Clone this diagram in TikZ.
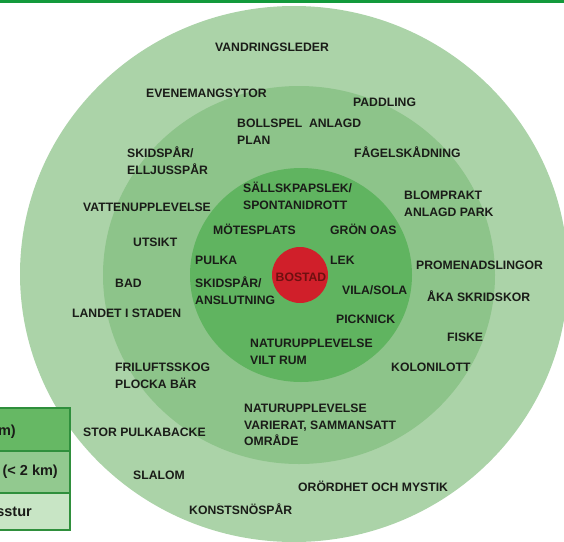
\documentclass[tikz,border=0pt]{standalone}
\usepackage{fontspec}
\setmainfont{Liberation Sans}
\definecolor{ringA}{HTML}{ABD3A8}
\definecolor{ringB}{HTML}{8DC48A}
\definecolor{ringC}{HTML}{60B460}
\definecolor{homered}{HTML}{D01F2A}
\definecolor{hometext}{HTML}{6E1010}
\definecolor{txt}{HTML}{1A1C18}
\definecolor{legA}{HTML}{66B864}
\definecolor{legB}{HTML}{92C98F}
\definecolor{legC}{HTML}{C8E5C5}
\definecolor{legline}{HTML}{2F8F3C}
\definecolor{topline}{HTML}{139A3C}
\tikzset{
  lbl/.style={anchor=base west, inner sep=0pt, align=left, text=txt,
    font=\fontsize{12.2}{16.8}\selectfont\bfseries},
  legtext/.style={anchor=base east, inner sep=0pt, text=txt,
    font=\fontsize{14.5}{17}\selectfont\bfseries},
}
\begin{document}
\begin{tikzpicture}[x=1pt,y=-1pt]
\useasboundingbox (0,0) rectangle (564,541);
\clip (0,0) rectangle (564,541);
% top rule
\fill[topline] (0,0) rectangle (564,2.5);
% rings
\fill[ringA] (294,274) ellipse [x radius=274, y radius=268];
\fill[ringB] (299,275) ellipse [x radius=196, y radius=189];
\fill[ringC] (301,275) ellipse [x radius=111, y radius=107];
\fill[homered] (300,275) circle [radius=28];
\node[anchor=center, inner sep=0pt, text=hometext,
  font=\fontsize{12.2}{14}\selectfont\bfseries] (bostad) at (301,277) {BOSTAD};
% labels: base of the last line at (left x, centre y of last line + 4.3)
\node[lbl] (vandring) at (215,51.3) {VANDRINGSLEDER};
\node[lbl] (evenemang) at (146,97.3) {EVENEMANGSYTOR};
\node[lbl] (paddling) at (353,106.3) {PADDLING};
\node[lbl] (bollspel) at (237,144.1) {BOLLSPEL\ \ ANLAGD\\PLAN};
\node[lbl] (elljus) at (127,174.1) {SKIDSPÅR/\\ELLJUSSPÅR};
\node[lbl] (fagel) at (354,157.3) {FÅGELSKÅDNING};
\node[lbl] (sallskap) at (243,209.1) {SÄLLSKPAPSLEK/\\SPONTANIDROTT};
\node[lbl] (blom) at (404,216.1) {BLOMPRAKT\\ANLAGD PARK};
\node[lbl] (vatten) at (83,211.3) {VATTENUPPLEVELSE};
\node[lbl] (motes) at (213,234.3) {MÖTESPLATS};
\node[lbl] (gron) at (330,234.3) {GRÖN OAS};
\node[lbl] (utsikt) at (133,246.3) {UTSIKT};
\node[lbl] (pulka) at (195,264.3) {PULKA};
\node[lbl] (lek) at (330,264.3) {LEK};
\node[lbl] (promenad) at (416,269.3) {PROMENADSLINGOR};
\node[lbl] (bad) at (115,287.3) {BAD};
\node[lbl] (anslut) at (195,304.1) {SKIDSPÅR/\\ANSLUTNING};
\node[lbl] (vila) at (342,294.3) {VILA/SOLA};
\node[lbl] (aka) at (427,301.3) {ÅKA SKRIDSKOR};
\node[lbl] (landet) at (72,317.3) {LANDET I STADEN};
\node[lbl] (picknick) at (336,323.3) {PICKNICK};
\node[lbl] (fiske) at (447,341.3) {FISKE};
\node[lbl] (vilt) at (250,364.1) {NATURUPPLEVELSE\\VILT RUM};
\node[lbl] (frilufts) at (115,388.1) {FRILUFTSSKOG\\PLOCKA BÄR};
\node[lbl] (koloni) at (391,371.3) {KOLONILOTT};
\node[lbl] (varierat) at (244,445.9) {NATURUPPLEVELSE\\VARIERAT, SAMMANSATT\\OMRÅDE};
\node[lbl] (storpulka) at (83,436.3) {STOR PULKABACKE};
\node[lbl] (slalom) at (133,479.3) {SLALOM};
\node[lbl] (orordhet) at (298,491.3) {ORÖRDHET OCH MYSTIK};
\node[lbl] (konst) at (189,514.3) {KONSTSNÖSPÅR};
% legend (cut off at the left edge)
\fill[legA] (-10,408) rectangle (70,451);
\fill[legB] (-10,451) rectangle (70,493);
\fill[legC] (-10,493) rectangle (70,530);
\draw[legline, line width=1.5pt] (-10,451) -- (70,451) (-10,493) -- (70,493);
\draw[legline, line width=2.5pt] (-10,408) rectangle (70,530);
\node[legtext] (leg1) at (16,435) {m)};
\node[legtext] (leg2) at (58,475) {(< 2 km)};
\node[legtext] (leg3) at (32,516) {sstur};
\end{tikzpicture}
\end{document}
